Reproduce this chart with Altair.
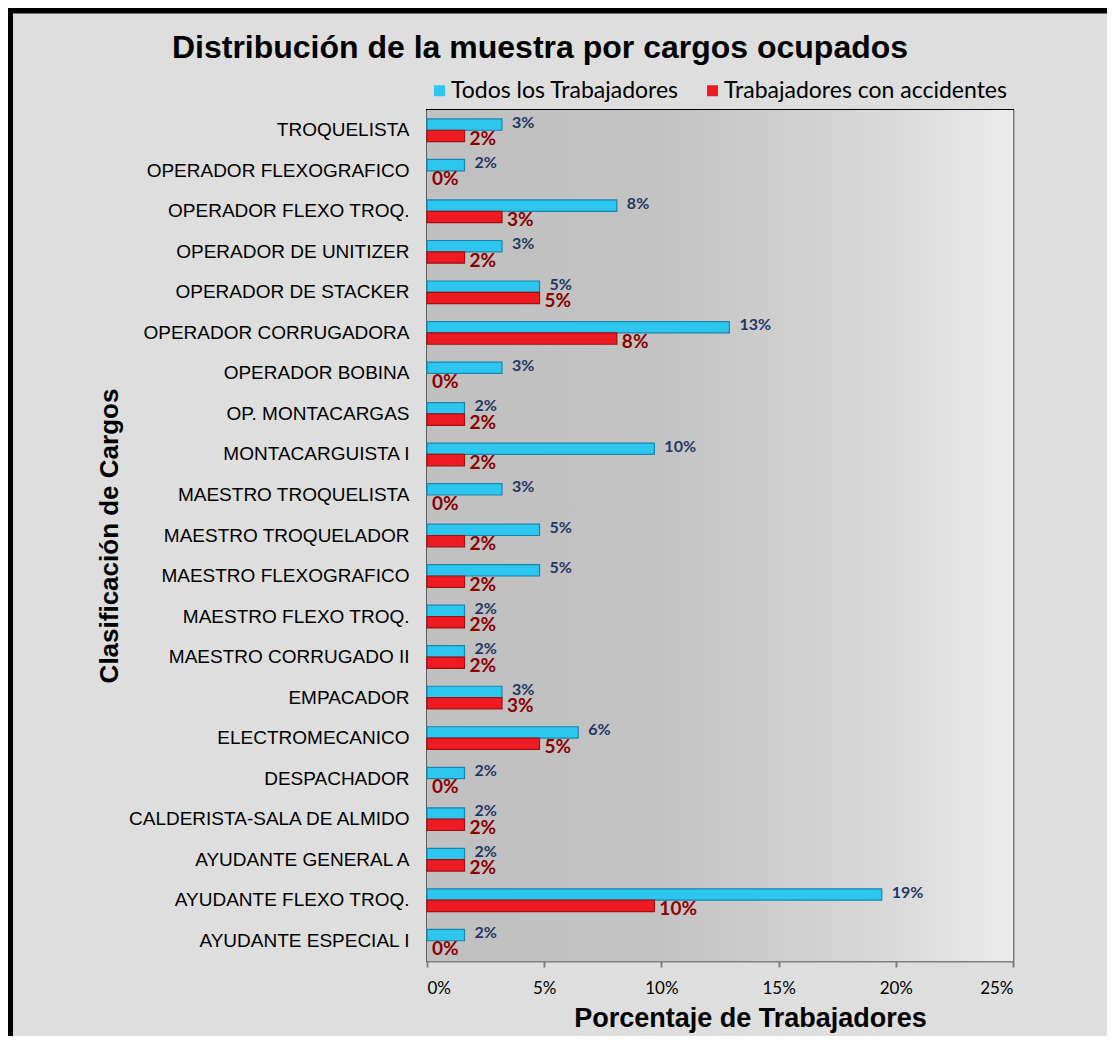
import altair as alt
import pandas as pd

cargos = ["TROQUELISTA", "OPERADOR FLEXOGRAFICO", "OPERADOR FLEXO TROQ.",
          "OPERADOR DE UNITIZER", "OPERADOR DE STACKER", "OPERADOR CORRUGADORA",
          "OPERADOR BOBINA", "OP. MONTACARGAS", "MONTACARGUISTA I",
          "MAESTRO TROQUELISTA", "MAESTRO TROQUELADOR", "MAESTRO FLEXOGRAFICO",
          "MAESTRO FLEXO TROQ.", "MAESTRO CORRUGADO II", "EMPACADOR",
          "ELECTROMECANICO", "DESPACHADOR", "CALDERISTA-SALA DE ALMIDO",
          "AYUDANTE GENERAL A", "AYUDANTE FLEXO TROQ.", "AYUDANTE ESPECIAL I"]
todos = [3.2, 1.6, 8.1, 3.2, 4.8, 12.9, 3.2, 1.6, 9.7, 3.2, 4.8, 4.8,
         1.6, 1.6, 3.2, 6.45, 1.6, 1.6, 1.6, 19.4, 1.6]
accidentes = [1.6, 0, 3.2, 1.6, 4.8, 8.1, 0, 1.6, 1.6, 0, 1.6, 1.6,
              1.6, 1.6, 3.2, 4.8, 0, 1.6, 1.6, 9.7, 0]
series = ["Todos los Trabajadores", "Trabajadores con accidentes"]
x_ticks = [0, 5, 10, 15, 20, 25]
titulo = "Distribución de la muestra por cargos ocupados"

rows = []
for c, t, a in zip(cargos, todos, accidentes):
    rows.append({"cargo": c, "serie": series[0], "pct": t})
    rows.append({"cargo": c, "serie": series[1], "pct": a})
df = pd.DataFrame(rows)

W, H = 586, 851
PL, PT, PR, PB = 419, 102, 94, 75

x_axis = alt.Axis(
    values=x_ticks, labelExpr="datum.value + '%'", grid=True,
    gridColor="#808080", gridWidth=2, domainColor="#808080", domainWidth=2,
    tickColor="#808080", tickWidth=2, tickSize=6, labelPadding=13,
    labelFont="Lato", labelFontSize=17, labelColor="#000000",
    title="Porcentaje de Trabajadores", titleFont="Liberation Sans",
    titleFontSize=27, titleFontWeight="bold", titleColor="#000000",
    titlePadding=9, titleX=W / 2 + 30,
)
x_scale = alt.Scale(domain=[0, 25], nice=False)

y_def = alt.Y(
    "cargo:N", sort=cargos,
    scale=alt.Scale(paddingInner=0.44, paddingOuter=0.22),
    axis=alt.Axis(
        ticks=False, labelPadding=18, labelFont="Liberation Sans",
        labelFontSize=19, labelColor="#000000", labelLimit=400,
        domainColor="#808080", domainWidth=2,
        title="Clasificación de Cargos",
        titleFont="Liberation Sans", titleFontSize=26, titleFontWeight="bold",
        titleColor="#000000", titleX=-305, titleY=H / 2,
    ),
)
yoff = alt.YOffset("serie:N", sort=series, scale=alt.Scale(domain=series))

bg = alt.Chart(alt.Data(values=[{"a": 0, "b": 25}])).mark_rect(
    fill=alt.LinearGradient(
        gradient="linear", x1=0, x2=1, y1=0, y2=0,
        stops=[alt.GradientStop(color="#c0c0c0", offset=0),
               alt.GradientStop(color="#c3c3c3", offset=0.4),
               alt.GradientStop(color="#cecece", offset=0.6),
               alt.GradientStop(color="#dadada", offset=0.8),
               alt.GradientStop(color="#ececec", offset=1)]),
).encode(
    x=alt.X("a:Q", scale=x_scale, axis=x_axis),
    x2="b:Q",
    y=alt.value(0), y2=alt.value(H),
)

bars = alt.Chart(df).transform_filter(
    alt.datum.pct > 0
).mark_bar(strokeWidth=1.2).encode(
    y=y_def, yOffset=yoff,
    x=alt.X("pct:Q", scale=x_scale, axis=x_axis),
    color=alt.Color(
        "serie:N", sort=series,
        scale=alt.Scale(domain=series, range=["#2cc6ee", "#ee1c22"]),
        legend=alt.Legend(
            title=None, orient="none", legendX=1, legendY=-31,
            direction="horizontal", symbolType="square", symbolSize=121,
            symbolStrokeWidth=0, labelFont="Lato", labelFontSize=23,
            labelColor="#000000", labelOffset=0, columnPadding=22,
            labelLimit=500, padding=0,
        ),
    ),
    stroke=alt.Stroke("serie:N", sort=series,
                      scale=alt.Scale(domain=series, range=["#1b86ad", "#a01010"]),
                      legend=None),
)

lab_blue = alt.Chart(df).transform_filter(
    alt.datum.serie == series[0]
).transform_calculate(
    label="format(datum.pct, '.0f') + '%'"
).mark_text(
    align="left", baseline="middle", dx=10, dy=-2, font="Lato",
    fontSize=16, fontWeight="bold", color="#1f3864",
).encode(
    y=y_def, yOffset=yoff,
    x=alt.X("pct:Q", scale=x_scale, axis=x_axis),
    text="label:N",
)

lab_red = alt.Chart(df).transform_filter(
    alt.datum.serie == series[1]
).transform_calculate(
    label="format(datum.pct, '.0f') + '%'"
).mark_text(
    align="left", baseline="middle", dx=5, dy=3, font="Lato",
    fontSize=19, fontWeight="bold", color="#8b0000",
).encode(
    y=y_def, yOffset=yoff,
    x=alt.X("pct:Q", scale=x_scale, axis=x_axis),
    text="label:N",
)

title_mark = alt.Chart(alt.Data(values=[{"t": titulo}])).mark_text(
    font="Liberation Sans", fontSize=32, fontWeight="bold", color="#000000",
    align="center", baseline="middle",
).encode(
    x=alt.value(W / 2 - 180), y=alt.value(-62), text="t:N",
)

border = alt.Chart(alt.Data(values=[{}])).mark_rect(
    fill=None, stroke="#000000", strokeWidth=6,
).encode(
    x=alt.value(-PL + 2), x2=alt.value(W + PR + 40),
    y=alt.value(-PT + 2.5), y2=alt.value(H + PB + 40),
)

chart = alt.layer(bg, bars, lab_blue, lab_red, title_mark, border).properties(
    width=W, height=H,
    autosize=alt.AutoSizeParams(type="none"),
    padding={"left": PL, "top": PT, "right": PR, "bottom": PB},
).configure(
    background="#dedede",
).configure_view(
    stroke="#000000", strokeWidth=2,
)

chart.save("out.html", embed_options={"renderer": "svg", "actions": False})
